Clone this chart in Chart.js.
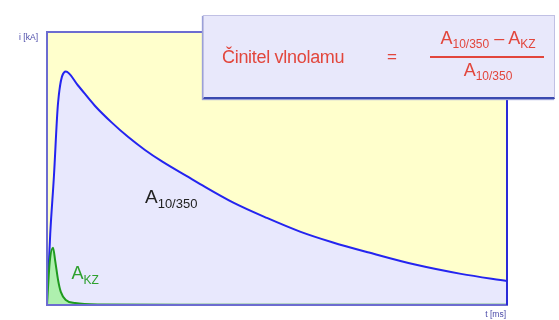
<!DOCTYPE html>
<html>
<head>
	<title>Činitel vlnolamu</title>
	<script src="https://cdn.jsdelivr.net/npm/chart.js@4.4.0/dist/chart.umd.min.js"></script>
	<style type="text/css">
		body{
			margin: 0;
			font-family: 'Liberation Sans', Arial, sans-serif;
			background: #fff;
		}
		#wrap{
			position: relative;
			width: 559px;
			height: 320px;
		}
		#box{
			position: absolute;
			left: 203px;
			top: 15px;
			width: 350px;
			height: 81px;
			background: #e8e8fb;
			border: 1px solid #c0c0e4;
			border-bottom: 2px solid #3a4ab0;
			box-shadow: -1px 1px 1px #9aa0d8;
			color: #e2463c;
		}
		#box .name{ position: absolute; left: 18px; top: 31px; font-size: 18px; letter-spacing: -0.3px; }
		#box .eq{ position: absolute; left: 183px; top: 31px; font-size: 17px; }
		#box .num{ position: absolute; left: 226px; top: 12px; width: 116px; text-align: center; font-size: 18px; }
		#box .bar{ position: absolute; left: 226px; top: 40px; width: 114px; height: 2px; background: #e2463c; }
		#box .den{ position: absolute; left: 226px; top: 44px; width: 116px; text-align: center; font-size: 18px; }
		sub{ font-size: 12px; vertical-align: -4px; }
	</style>
</head>
<body>
<div id="wrap">
	<canvas id="myChart" width="559" height="320"></canvas>
	<div id="box">
		<span class="name">Činitel vlnolamu</span>
		<span class="eq">=</span>
		<div class="num">A<sub>10/350</sub> – A<sub>KZ</sub></div>
		<div class="bar"></div>
		<div class="den">A<sub>10/350</sub></div>
	</div>
</div>
<script>
	// time axis (ms, relative units) and current (kA, relative units)
	const tA = [0, 0.7, 1.5, 2.4, 4.1, 6.7, 10.4, 14.1, 17.6, 21.3, 25, 30.7, 33.3, 40.4, 47.8, 55, 62, 70, 80, 90, 100];
	const iA = [0, 26, 47, 74, 85.5, 80.5, 73, 66.8, 61.6, 56.8, 52.6, 46.9, 44.3, 37.6, 31.9, 26.9, 23, 19.2, 14.8, 11.4, 8.8];
	const tKZ = [0, 0.6, 1.3, 1.8, 2.4, 3, 4.1, 6.1, 11.5, 30, 60, 100];
	const iKZ = [0, 16, 21, 16, 9.2, 4.8, 1.8, 0.7, 0.2, 0.1, 0.1, 0.1];
	const xTitle = 't [ms]';
	const yTitle = 'i [kA]';

	const toPts = (t, v) => t.map((x, k) => ({x: x, y: v[k]}));

	const frame = {
		id: 'frame',
		beforeDraw(chart) {
			const {ctx, chartArea: a} = chart;
			ctx.save();
			ctx.fillStyle = '#ffffcc';
			ctx.fillRect(a.left, a.top, a.right - a.left, a.bottom - a.top);
			ctx.restore();
		},
		afterDraw(chart) {
			const {ctx, chartArea: a, scales} = chart;
			ctx.save();
			ctx.strokeStyle = '#6c6cd0';
			ctx.lineWidth = 2;
			ctx.strokeRect(a.left, a.top, a.right - a.left, a.bottom - a.top);
			ctx.strokeStyle = '#2a2ad8';
			ctx.beginPath();
			ctx.moveTo(a.right, a.top);
			ctx.lineTo(a.right, a.bottom);
			ctx.stroke();
			// axis titles
			ctx.fillStyle = '#4a4aa8';
			ctx.font = '8.5px "Liberation Sans", Arial, sans-serif';
			ctx.textAlign = 'right';
			ctx.textBaseline = 'middle';
			ctx.fillText(yTitle, a.left - 9, a.top + 6);
			ctx.fillText(xTitle, a.right - 1, a.bottom + 10);
			// curve labels
			const sub = (main, s, x, y, col, size) => {
				ctx.fillStyle = col;
				ctx.textAlign = 'left';
				ctx.textBaseline = 'alphabetic';
				ctx.font = size + 'px "Liberation Sans", Arial, sans-serif';
				ctx.fillText(main, x, y);
				const w = ctx.measureText(main).width;
				ctx.font = Math.round(size * 0.66) + 'px "Liberation Sans", Arial, sans-serif';
				ctx.fillText(s, x + w, y + 5);
			};
			const xs = scales.x, ys = scales.y;
			sub('A', '10/350', xs.getPixelForValue(21.3), ys.getPixelForValue(37.5), '#222', 19);
			sub('A', 'KZ', xs.getPixelForValue(5.3), ys.getPixelForValue(9.5), '#2ea02e', 18);
			ctx.restore();
		}
	};

	let ctx = document.getElementById('myChart').getContext('2d');
	let myChart = new Chart(ctx, {
		type: 'line',
		data: {
			datasets: [{
				data: toPts(tKZ, iKZ),
				borderColor: '#1f9a1f',
				backgroundColor: '#aef0ae',
				borderWidth: 2,
				fill: 'origin',
				pointRadius: 0,
				cubicInterpolationMode: 'monotone',
				order: 1
			}, {
				data: toPts(tA, iA),
				borderColor: '#2424f0',
				backgroundColor: '#e8e8fd',
				borderWidth: 2,
				fill: 'origin',
				pointRadius: 0,
				cubicInterpolationMode: 'monotone',
				order: 2
			}]
		},
		options: {
			responsive: false,
			animation: false,
			layout: {padding: {left: 47, top: 32, right: 52, bottom: 15}},
			plugins: {legend: {display: false}, tooltip: {enabled: false}},
			scales: {
				x: {type: 'linear', min: 0, max: 100, display: false},
				y: {min: 0, max: 100, display: false}
			}
		},
		plugins: [frame]
	});
</script>
</body>
</html>
